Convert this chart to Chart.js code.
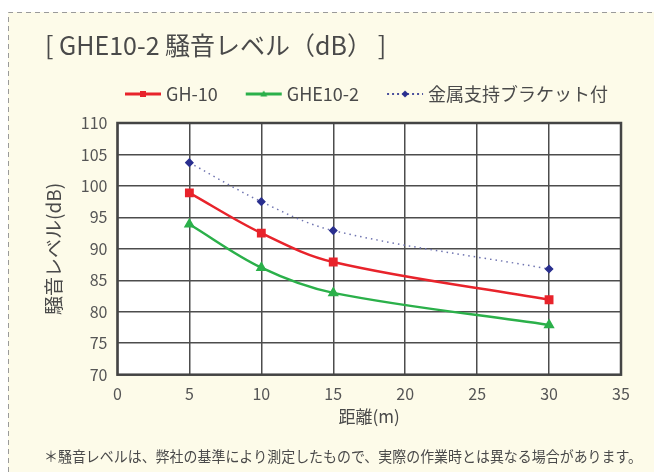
<!DOCTYPE html>
<html>
<head>
<meta charset="utf-8">
<script src="https://cdn.jsdelivr.net/npm/chart.js@4.4.0/dist/chart.umd.min.js"></script>
<style>
  html, body { margin: 0; padding: 0; background: #ffffff; }
  #wrap { position: relative; width: 654px; height: 472px; }
</style>
</head>
<body>
<div id="wrap"><canvas id="noiseChart" width="654" height="472"></canvas></div>
<script>
// distance (m)
const distances = [5, 10, 15, 30];
// series values (dB)
const gh10 = [98.9, 92.5, 87.9, 81.9];
const ghe102 = [93.9, 87.0, 83.0, 77.9];
const withBracket = [103.7, 97.5, 92.9, 86.8];
const seriesNames = ['GH-10', 'GHE10-2', '金属支持ブラケット付'];
const seriesColors = ['#e8232b', '#2bb04a', '#2a2f8f'];
const xTicks = [0, 5, 10, 15, 20, 25, 30, 35];
const yTicks = [70, 75, 80, 85, 90, 95, 100, 105, 110];
const footNote = '＊騒音レベルは、弊社の基準により測定したもので、実際の作業時とは異なる場合があります。';

const jpFont = '"Noto Sans CJK JP", "Noto Sans", sans-serif';
const textGray = '#4a4a4a';

// line + marker picture for the legend (48 wide, line drawn 6..42)
function legendIcon(color, style, dotted) {
  const c = document.createElement('canvas');
  c.width = 48; c.height = 12;
  const g = c.getContext('2d');
  g.strokeStyle = dotted ? '#4a4f9c' : color;
  g.fillStyle = color;
  g.lineWidth = dotted ? 2 : 3;
  if (dotted) g.setLineDash([2, 3]);
  g.beginPath(); g.moveTo(6, 6); g.lineTo(42, 6); g.stroke();
  g.setLineDash([]);
  g.beginPath();
  if (style === 'rect') { g.rect(21, 3, 6, 6); }
  else if (style === 'triangle') { g.moveTo(24, 2.5); g.lineTo(27.5, 8.5); g.lineTo(20.5, 8.5); g.closePath(); }
  else { g.moveTo(24, 2.5); g.lineTo(27.5, 6); g.lineTo(24, 9.5); g.lineTo(20.5, 6); g.closePath(); }
  g.fill();
  return c;
}

const pageBack = {
  id: 'pageBack',
  afterLayout(chart) {
    // nudge the legend to where the original put it
    const lg = chart.legend;
    lg.left += 52; lg.right += 52;
    lg.top -= 10; lg.bottom -= 10;
  },
  beforeDraw(chart) {
    const ctx = chart.ctx;
    const a = chart.chartArea;
    ctx.save();
    ctx.fillStyle = '#ffffff';
    ctx.fillRect(0, 0, chart.width, chart.height);
    ctx.fillStyle = '#fdfbe9';
    ctx.fillRect(8, 12, chart.width - 8, chart.height - 12);
    ctx.strokeStyle = '#9a9a9a';
    ctx.lineWidth = 1;
    ctx.setLineDash([5, 4]);
    ctx.beginPath();
    ctx.moveTo(8.5, chart.height); ctx.lineTo(8.5, 12.5); ctx.lineTo(chart.width, 12.5);
    ctx.stroke();
    ctx.setLineDash([]);
    ctx.fillStyle = '#ffffff';
    ctx.fillRect(a.left, a.top, a.right - a.left, a.bottom - a.top);
    ctx.restore();
  },
  afterDatasetsDraw(chart) {
    const a = chart.chartArea;
    const ctx = chart.ctx;
    ctx.save();
    ctx.strokeStyle = '#444444';
    ctx.lineWidth = 2.5;
    ctx.strokeRect(a.left, a.top, a.right - a.left, a.bottom - a.top);
    ctx.restore();
  },
  afterDraw(chart) {
    // footnote is wider than the subtitle box allows, so draw it here
    const ctx = chart.ctx;
    ctx.save();
    ctx.fillStyle = textGray;
    ctx.font = '15px ' + jpFont;
    ctx.textBaseline = 'middle';
    ctx.textAlign = 'left';
    ctx.fillText(footNote, 44, 456, 598);
    ctx.restore();
  }
};

const icons = [legendIcon(seriesColors[0], 'rect', false),
               legendIcon(seriesColors[1], 'triangle', false),
               legendIcon(seriesColors[2], 'rectRot', true)];

new Chart(document.getElementById('noiseChart'), {
  type: 'line',
  data: {
    datasets: [
      {
        label: seriesNames[0],
        data: distances.map((d, i) => ({ x: d, y: gh10[i] })),
        borderColor: seriesColors[0], backgroundColor: seriesColors[0],
        borderWidth: 2.5, tension: 0.35, pointStyle: 'rect', pointRadius: 4.5
      },
      {
        label: seriesNames[1],
        data: distances.map((d, i) => ({ x: d, y: ghe102[i] })),
        borderColor: seriesColors[1], backgroundColor: seriesColors[1],
        borderWidth: 2.5, tension: 0.35, pointStyle: 'triangle', pointRadius: 4
      },
      {
        label: seriesNames[2],
        data: distances.map((d, i) => ({ x: d, y: withBracket[i] })),
        borderColor: '#6f74b0', backgroundColor: seriesColors[2],
        pointBorderColor: seriesColors[2],
        borderWidth: 1.5, borderDash: [1.5, 4], tension: 0.35, pointStyle: 'rectRot', pointRadius: 3.5
      }
    ]
  },
  options: {
    responsive: false,
    animation: false,
    layout: { padding: { left: 45, right: 33, top: 30, bottom: 8 } },
    scales: {
      x: {
        type: 'linear', min: 0, max: 35,
        afterBuildTicks: (ax) => { ax.ticks = xTicks.map(v => ({ value: v })); },
        grid: { color: '#4d4d4d', lineWidth: 1.5, drawTicks: false },
        border: { display: false },
        ticks: { color: '#555555', padding: 10, font: { family: jpFont, size: 16 } },
        title: { display: true, text: '距離(m)', color: textGray, padding: { top: -8, bottom: 0 },
                 font: { family: jpFont, size: 17 } }
      },
      y: {
        min: 70, max: 110,
        afterBuildTicks: (ax) => { ax.ticks = yTicks.map(v => ({ value: v })); },
        grid: { color: '#4d4d4d', lineWidth: 1.5, drawTicks: false },
        border: { display: false },
        ticks: { color: '#555555', padding: 10, font: { family: jpFont, size: 16 } },
        title: { display: true, text: '騒音レベル(dB)', color: textGray, padding: { top: -3, bottom: 6 },
                 font: { family: jpFont, size: 19 } }
      }
    },
    plugins: {
      title: {
        display: true, align: 'start', text: '[ GHE10-2 騒音レベル（dB） ]', color: textGray,
        font: { family: jpFont, size: 25, weight: 'normal' }, padding: { top: 0, bottom: 3 }
      },
      subtitle: {
        // keeps room for the footnote drawn in afterDraw
        display: true, position: 'bottom', align: 'start', text: footNote,
        color: 'rgba(0,0,0,0)', font: { family: jpFont, size: 15.6 }, padding: { top: 19, bottom: 0 }
      },
      legend: {
        align: 'start',
        labels: {
          usePointStyle: true, pointStyleWidth: 28, boxHeight: 12, padding: 32,
          color: textGray, font: { family: jpFont, size: 18 },
          generateLabels: (chart) => chart.data.datasets.map((ds, i) => ({
            text: ds.label, pointStyle: icons[i], fillStyle: seriesColors[i],
            strokeStyle: seriesColors[i], lineWidth: 0, datasetIndex: i, fontColor: textGray
          }))
        }
      },
      tooltip: { enabled: false }
    }
  },
  plugins: [pageBack]
});
</script>
</body>
</html>
